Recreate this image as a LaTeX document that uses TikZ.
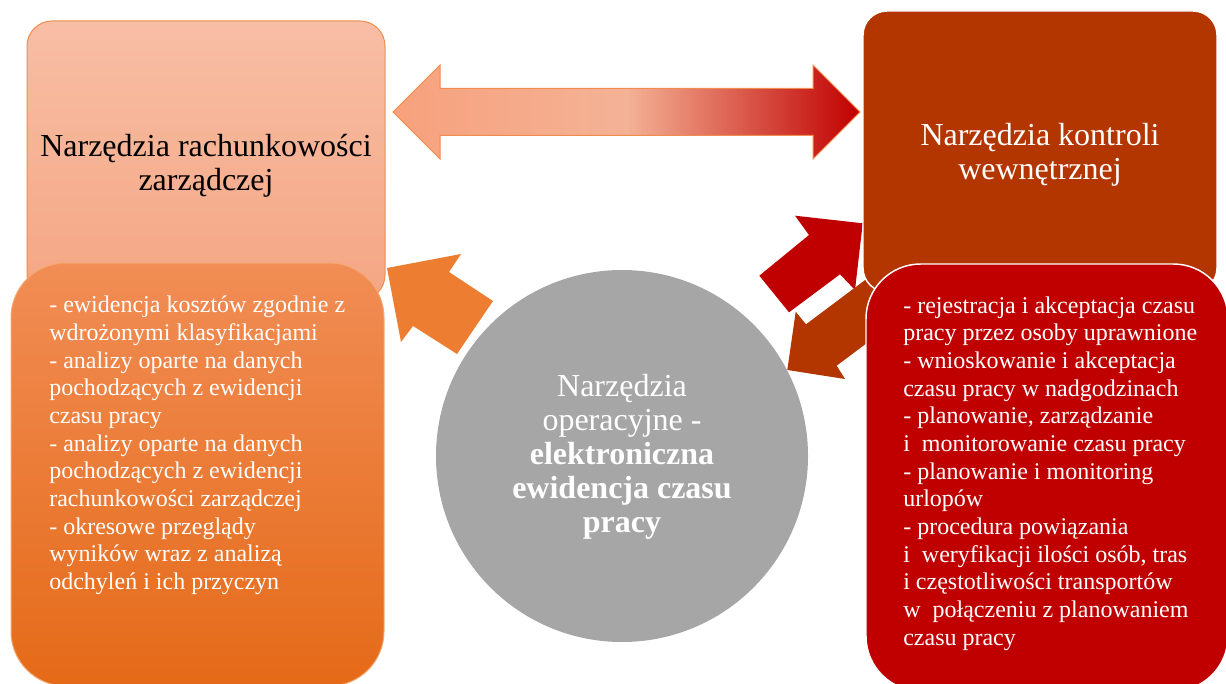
\documentclass[tikz,border=0pt]{standalone}
\usepackage{fontspec}
\setmainfont{Liberation Serif}
\definecolor{rachtop}{HTML}{F8BEA5}
\definecolor{rachbot}{HTML}{F4A683}
\definecolor{rachline}{HTML}{F08C4E}
\definecolor{listtop}{HTML}{F18D55}
\definecolor{listbot}{HTML}{E56A18}
\definecolor{listline}{HTML}{F4A870}
\definecolor{brick}{HTML}{B33500}
\definecolor{darkred}{HTML}{C00000}
\definecolor{circgray}{HTML}{A6A6A6}
\definecolor{arrorange}{HTML}{ED7D31}
\definecolor{dblleft}{HTML}{F7A17C}
\definecolor{dblmid}{HTML}{F4B296}
\begin{document}
\begin{tikzpicture}[x=0.75pt,y=-0.75pt,
  panel/.style={rectangle, inner sep=0pt, outer sep=0pt},
  titletext/.style={font=\fontsize{24}{25.5}\selectfont, align=center, inner sep=0pt},
  listtext/.style={font=\fontsize{18}{20.75}\selectfont, align=left, inner sep=0pt, text=white}]
\useasboundingbox (0,0) rectangle (1226,684);
% double arrow
\path[draw=rachline, line width=0.75pt, left color=dblleft, right color=darkred, middle color=dblmid]
  (393,112) -- (440,65) -- (440,88.5) -- (813,88.5) -- (813,65) -- (860,112)
  -- (813,159) -- (813,135.5) -- (440,135.5) -- (440,159) -- cycle;
% small block arrows
\fill[arrorange] (387,268) -- (461,254) -- (449,272) -- (493,301) -- (457,354) -- (413,326) -- (401,342) -- cycle;
\fill[darkred] (862.7,223.3) -- (855,290) -- (840,274.3) -- (789,312.3) -- (759.3,275.7) -- (809,235) -- (795,215.7) -- cycle;
\fill[brick] (787.3,370) -- (845,379) -- (836.7,365.7) -- (900.7,317.7) -- (870,276.3) -- (806,324.3) -- (795.7,311.7) -- cycle;
% upper panels
\node[panel, draw=rachline, line width=0.75pt, top color=rachtop, bottom color=rachbot,
  rounded corners=18.75pt, minimum width=268.5pt, minimum height=209.25pt] (rach) at (206,160.5) {};
\node[panel, draw=white, line width=1.1pt, fill=brick,
  rounded corners=18pt, minimum width=265.5pt, minimum height=210.75pt] (kontr) at (1040,151.5) {};
% lower panels
\node[panel, draw=listline, line width=0.75pt, top color=listtop, bottom color=listbot,
  rounded corners=41pt, minimum width=279.75pt, minimum height=317.25pt] (rachlist) at (197.5,474.5) {};
\node[panel, draw=white, line width=1.1pt, fill=darkred,
  rounded corners=41pt, minimum width=271.5pt, minimum height=320.25pt] (kontrlist) at (1047,477.5) {};
% circle
\node[circle, fill=circgray, inner sep=0pt, minimum size=279pt] (oper) at (622,456) {};
% texts (base anchor = baseline of the last line)
\node[titletext, anchor=base] (rachtitle) at (206,191) {Narzędzia rachunkowości\\zarządczej};
\node[titletext, anchor=base, text=white] (kontrtitle) at (1040,179.5) {Narzędzia kontroli\\wewnętrznej};
\node[titletext, anchor=base, text=white] (opertitle) at (622,532) {Narzędzia\\operacyjne -\\\textbf{elektroniczna}\\\textbf{ewidencja czasu}\\\textbf{pracy}};
\node[listtext, anchor=base west] (rachitems) at (49,589.5) {- ewidencja kosztów zgodnie z\\wdrożonymi klasyfikacjami\\- analizy oparte na danych\\pochodzących z ewidencji\\czasu pracy\\- analizy oparte na danych\\pochodzących z ewidencji\\rachunkowości zarządczej\\- okresowe przeglądy\\wyników wraz z analizą\\odchyleń i ich przyczyn};
\node[listtext, anchor=base west] (kontritems) at (903,645) {- rejestracja i akceptacja czasu\\pracy przez osoby uprawnione\\- wnioskowanie i akceptacja\\czasu pracy w nadgodzinach\\- planowanie, zarządzanie\\i\ \ monitorowanie czasu pracy\\- planowanie i monitoring\\urlopów\\- procedura powiązania\\i\ \ weryfikacji ilości osób, tras\\i częstotliwości transportów\\w\ \ połączeniu z planowaniem\\czasu pracy};
\end{tikzpicture}
\end{document}
